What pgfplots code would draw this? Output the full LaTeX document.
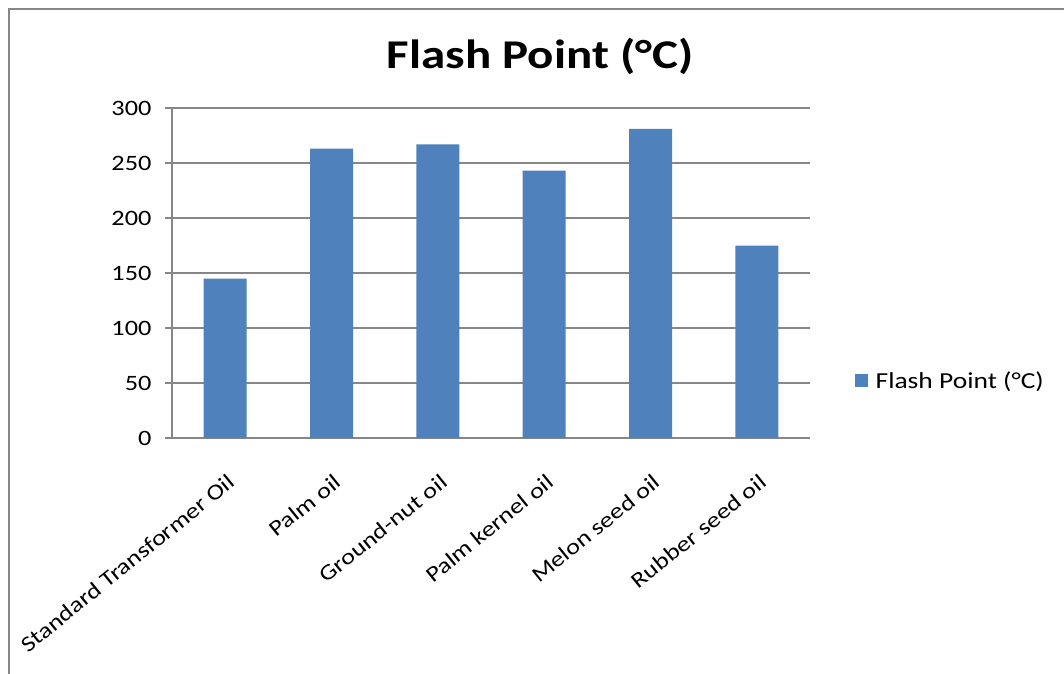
\documentclass[border=0pt]{standalone}
\usepackage{pgfplots}
\pgfplotsset{compat=1.18}
\usepackage{fontspec}
\setmainfont{Carlito}[FakeStretch=1.2]
\definecolor{barblue}{HTML}{4F81BD}
\definecolor{gridgray}{HTML}{878787}
\begin{document}
\begin{tikzpicture}
\useasboundingbox (0,0) rectangle (1064bp,-674bp);
% frame
\draw[gridgray, line width=2.2bp] (9bp,-674bp) -- (9bp,-9bp) -- (1064bp,-9bp);
% title
\node[font=\fontsize{41}{48}\selectfont\bfseries] at (540bp,-56bp) {Flash Point (°C)};
\begin{axis}[
  at={(172bp,-438bp)}, anchor=south west,
  scale only axis, width=638bp, height=330bp,
  ybar, bar width=43bp,
  ymin=0, ymax=300, ytick={0,50,...,300},
  xmin=-0.5, xmax=5.5,
  xtick={0,...,5},
  xticklabels={Standard Transformer Oil, Palm oil, Ground-nut oil, Palm kernel oil, Melon seed oil, Rubber seed oil},
  major x tick style={draw=none},
  extra x ticks={-0.5,0.5,1.5,2.5,3.5,4.5,5.5},
  extra x tick labels={},
  extra x tick style={grid=none, major tick length=8bp, tick style={gridgray, line width=1.2bp}},
  tick align=outside,
  major tick length=7bp,
  axis x line*=bottom, axis y line*=left,
  axis line style={gridgray, line width=1.4bp, -},
  ytick style={gridgray, line width=1.2bp},
  ymajorgrids, grid style={gridgray, line width=1.2bp},
  /pgf/number format/assume math mode=true,
  tick label style={font=\fontsize{22}{26}\selectfont, text=black},
  yticklabel style={xshift=-10bp},
  xticklabel style={xshift=2bp, yshift=-23bp, rotate=39, anchor=north east},
  legend style={draw=none, at={(rel axis cs:1.065,0.173)}, anchor=west,
    font=\fontsize{23}{26}\selectfont, legend cell align=left},
  legend image code/.code={\fill[#1,draw=none] (0bp,-6.5bp) rectangle (13bp,6.5bp); \path (0bp,0bp) -- (19bp,0bp);},
]
\addplot[fill=barblue, draw=none] coordinates {(0,145) (1,263) (2,267) (3,243) (4,281) (5,175)};
\addlegendentry{Flash Point (°C)}
\end{axis}
\end{tikzpicture}
\end{document}
